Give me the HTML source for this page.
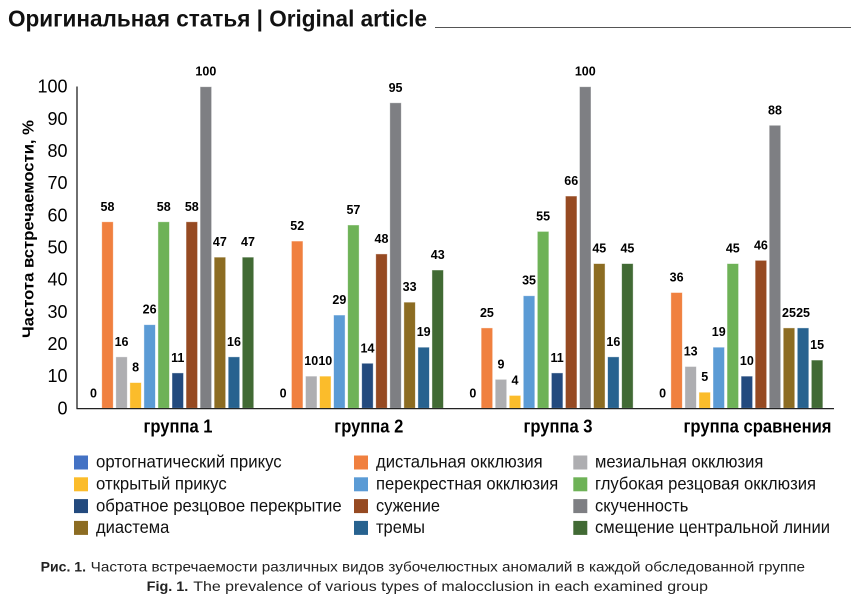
<!DOCTYPE html>
<html>
<head>
<meta charset="utf-8">
<style>
  html,body{margin:0;padding:0;background:#fff;}
  svg{display:block;}
  text{font-family:"Liberation Sans", Arial, sans-serif;}
</style>
</head>
<body>
<svg width="858" height="598" viewBox="0 0 858 598" xmlns="http://www.w3.org/2000/svg">
  <rect width="858" height="598" fill="#fff"/>

  <!-- Header -->
  <text x="8" y="26.5" font-size="23" font-weight="bold" fill="#111" textLength="419" lengthAdjust="spacingAndGlyphs">Оригинальная статья | Original article</text>
  <line x1="435" y1="27.5" x2="851" y2="27.5" stroke="#555" stroke-width="1"/>

  <!-- Y axis title -->
  <text transform="translate(33.5,229) rotate(-90)" text-anchor="middle" font-size="16" font-weight="bold" fill="#000" textLength="218" lengthAdjust="spacingAndGlyphs">Частота встречаемости, %</text>

  <!-- Y tick labels -->
  <g font-size="18" fill="#000" text-anchor="end">
    <text x="67.5" y="414.3">0</text>
    <text x="67.5" y="382.1">10</text>
    <text x="67.5" y="350">20</text>
    <text x="67.5" y="317.8">30</text>
    <text x="67.5" y="285.7">40</text>
    <text x="67.5" y="253.5">50</text>
    <text x="67.5" y="221.3">60</text>
    <text x="67.5" y="189.2">70</text>
    <text x="67.5" y="157">80</text>
    <text x="67.5" y="124.9">90</text>
    <text x="67.5" y="92.7">100</text>
  </g>

  <!-- Group 1 -->
  <g transform="translate(87.7,0)" stroke="rgba(255,255,255,0.55)" stroke-width="0.8">
    <rect x="14.05" y="221.77" width="11.5" height="186.53" fill="#F0803F"/>
    <rect x="28.1" y="356.84" width="11.5" height="51.46" fill="#AEAEB1"/>
    <rect x="42.15" y="382.57" width="11.5" height="25.73" fill="#FBBC2B"/>
    <rect x="56.2" y="324.68" width="11.5" height="83.62" fill="#5B9BD5"/>
    <rect x="70.25" y="221.77" width="11.5" height="186.53" fill="#6EB257"/>
    <rect x="84.3" y="372.92" width="11.5" height="35.38" fill="#234A7E"/>
    <rect x="98.35" y="221.77" width="11.5" height="186.53" fill="#964A22"/>
    <rect x="112.4" y="86.7" width="11.5" height="321.6" fill="#7E7F83"/>
    <rect x="126.45" y="257.15" width="11.5" height="151.15" fill="#8C6C22"/>
    <rect x="140.5" y="356.84" width="11.5" height="51.46" fill="#27628F"/>
    <rect x="154.55" y="257.15" width="11.5" height="151.15" fill="#416A34"/>
  </g>
  <g transform="translate(87.7,0)" font-size="12.5" font-weight="bold" fill="#000" text-anchor="middle">
    <text x="5.75" y="397.3">0</text>
    <text x="19.8" y="210.77">58</text>
    <text x="33.85" y="345.84">16</text>
    <text x="47.9" y="371.57">8</text>
    <text x="61.95" y="313.68">26</text>
    <text x="76" y="210.77">58</text>
    <text x="90.05" y="361.92">11</text>
    <text x="104.1" y="210.77">58</text>
    <text x="118.15" y="75.7">100</text>
    <text x="132.2" y="246.15">47</text>
    <text x="146.25" y="345.84">16</text>
    <text x="160.3" y="246.15">47</text>
  </g>

  <!-- Group 2 -->
  <g transform="translate(277.4,0)" stroke="rgba(255,255,255,0.55)" stroke-width="0.8">
    <rect x="14.05" y="241.07" width="11.5" height="167.23" fill="#F0803F"/>
    <rect x="28.1" y="376.14" width="11.5" height="32.16" fill="#AEAEB1"/>
    <rect x="42.15" y="376.14" width="11.5" height="32.16" fill="#FBBC2B"/>
    <rect x="56.2" y="315.04" width="11.5" height="93.26" fill="#5B9BD5"/>
    <rect x="70.25" y="224.99" width="11.5" height="183.31" fill="#6EB257"/>
    <rect x="84.3" y="363.28" width="11.5" height="45.02" fill="#234A7E"/>
    <rect x="98.35" y="253.93" width="11.5" height="154.37" fill="#964A22"/>
    <rect x="112.4" y="102.78" width="11.5" height="305.52" fill="#7E7F83"/>
    <rect x="126.45" y="302.17" width="11.5" height="106.13" fill="#8C6C22"/>
    <rect x="140.5" y="347.2" width="11.5" height="61.1" fill="#27628F"/>
    <rect x="154.55" y="270.01" width="11.5" height="138.29" fill="#416A34"/>
  </g>
  <g transform="translate(277.4,0)" font-size="12.5" font-weight="bold" fill="#000" text-anchor="middle">
    <text x="5.75" y="397.3">0</text>
    <text x="19.8" y="230.07">52</text>
    <text x="33.85" y="365.14">10</text>
    <text x="47.9" y="365.14">10</text>
    <text x="61.95" y="304.04">29</text>
    <text x="76" y="213.99">57</text>
    <text x="90.05" y="352.28">14</text>
    <text x="104.1" y="242.93">48</text>
    <text x="118.15" y="91.78">95</text>
    <text x="132.2" y="291.17">33</text>
    <text x="146.25" y="336.2">19</text>
    <text x="160.3" y="259.01">43</text>
  </g>

  <!-- Group 3 -->
  <g transform="translate(467.1,0)" stroke="rgba(255,255,255,0.55)" stroke-width="0.8">
    <rect x="14.05" y="327.9" width="11.5" height="80.4" fill="#F0803F"/>
    <rect x="28.1" y="379.36" width="11.5" height="28.94" fill="#AEAEB1"/>
    <rect x="42.15" y="395.44" width="11.5" height="12.86" fill="#FBBC2B"/>
    <rect x="56.2" y="295.74" width="11.5" height="112.56" fill="#5B9BD5"/>
    <rect x="70.25" y="231.42" width="11.5" height="176.88" fill="#6EB257"/>
    <rect x="84.3" y="372.92" width="11.5" height="35.38" fill="#234A7E"/>
    <rect x="98.35" y="196.04" width="11.5" height="212.26" fill="#964A22"/>
    <rect x="112.4" y="86.7" width="11.5" height="321.6" fill="#7E7F83"/>
    <rect x="126.45" y="263.58" width="11.5" height="144.72" fill="#8C6C22"/>
    <rect x="140.5" y="356.84" width="11.5" height="51.46" fill="#27628F"/>
    <rect x="154.55" y="263.58" width="11.5" height="144.72" fill="#416A34"/>
  </g>
  <g transform="translate(467.1,0)" font-size="12.5" font-weight="bold" fill="#000" text-anchor="middle">
    <text x="5.75" y="397.3">0</text>
    <text x="19.8" y="316.9">25</text>
    <text x="33.85" y="368.36">9</text>
    <text x="47.9" y="384.44">4</text>
    <text x="61.95" y="284.74">35</text>
    <text x="76" y="220.42">55</text>
    <text x="90.05" y="361.92">11</text>
    <text x="104.1" y="185.04">66</text>
    <text x="118.15" y="75.7">100</text>
    <text x="132.2" y="252.58">45</text>
    <text x="146.25" y="345.84">16</text>
    <text x="160.3" y="252.58">45</text>
  </g>

  <!-- Group 4 -->
  <g transform="translate(656.8,0)" stroke="rgba(255,255,255,0.55)" stroke-width="0.8">
    <rect x="14.05" y="292.52" width="11.5" height="115.78" fill="#F0803F"/>
    <rect x="28.1" y="366.49" width="11.5" height="41.81" fill="#AEAEB1"/>
    <rect x="42.15" y="392.22" width="11.5" height="16.08" fill="#FBBC2B"/>
    <rect x="56.2" y="347.2" width="11.5" height="61.1" fill="#5B9BD5"/>
    <rect x="70.25" y="263.58" width="11.5" height="144.72" fill="#6EB257"/>
    <rect x="84.3" y="376.14" width="11.5" height="32.16" fill="#234A7E"/>
    <rect x="98.35" y="260.36" width="11.5" height="147.94" fill="#964A22"/>
    <rect x="112.4" y="125.29" width="11.5" height="283.01" fill="#7E7F83"/>
    <rect x="126.45" y="327.9" width="11.5" height="80.4" fill="#8C6C22"/>
    <rect x="140.5" y="327.9" width="11.5" height="80.4" fill="#27628F"/>
    <rect x="154.55" y="360.06" width="11.5" height="48.24" fill="#416A34"/>
  </g>
  <g transform="translate(656.8,0)" font-size="12.5" font-weight="bold" fill="#000" text-anchor="middle">
    <text x="5.75" y="397.3">0</text>
    <text x="19.8" y="281.52">36</text>
    <text x="33.85" y="355.49">13</text>
    <text x="47.9" y="381.22">5</text>
    <text x="61.95" y="336.2">19</text>
    <text x="76" y="252.58">45</text>
    <text x="90.05" y="365.14">10</text>
    <text x="104.1" y="249.36">46</text>
    <text x="118.15" y="114.29">88</text>
    <text x="132.2" y="316.9">25</text>
    <text x="146.25" y="316.9">25</text>
    <text x="160.3" y="349.06">15</text>
  </g>

  <!-- Axes -->
  <line x1="77" y1="86.5" x2="77" y2="409" stroke="#222" stroke-width="1.3"/>
  <line x1="76.5" y1="408.6" x2="834" y2="408.6" stroke="#222" stroke-width="1.3"/>

  <!-- Category labels -->
  <g font-size="18" font-weight="bold" fill="#000" text-anchor="middle">
    <text x="178" y="432.5" textLength="69" lengthAdjust="spacingAndGlyphs">группа 1</text>
    <text x="368.8" y="432.5" textLength="69" lengthAdjust="spacingAndGlyphs">группа 2</text>
    <text x="558" y="432.5" textLength="69" lengthAdjust="spacingAndGlyphs">группа 3</text>
    <text x="757.5" y="432.5" textLength="148" lengthAdjust="spacingAndGlyphs">группа сравнения</text>
  </g>

  <!-- Legend -->
  <g>
    <rect x="74" y="455.5" width="14" height="14" fill="#4472C4"/>
    <rect x="354" y="455.5" width="14" height="14" fill="#F0803F"/>
    <rect x="573.3" y="455.5" width="14" height="14" fill="#AEAEB1"/>

    <rect x="74" y="477.3" width="14" height="14" fill="#FBBC2B"/>
    <rect x="354" y="477.3" width="14" height="14" fill="#5B9BD5"/>
    <rect x="573.3" y="477.3" width="14" height="14" fill="#6EB257"/>

    <rect x="74" y="499.1" width="14" height="14" fill="#234A7E"/>
    <rect x="354" y="499.1" width="14" height="14" fill="#964A22"/>
    <rect x="573.3" y="499.1" width="14" height="14" fill="#7E7F83"/>

    <rect x="74" y="520.9" width="14" height="14" fill="#8C6C22"/>
    <rect x="354" y="520.9" width="14" height="14" fill="#27628F"/>
    <rect x="573.3" y="520.9" width="14" height="14" fill="#416A34"/>
  </g>
  <g font-size="17.5" fill="#111">
    <text x="96" y="467.7" textLength="185.7" lengthAdjust="spacingAndGlyphs">ортогнатический прикус</text>
    <text x="376" y="467.7" textLength="166.7" lengthAdjust="spacingAndGlyphs">дистальная окклюзия</text>
    <text x="595" y="467.7" textLength="168.3" lengthAdjust="spacingAndGlyphs">мезиальная окклюзия</text>

    <text x="96" y="489.5" textLength="130.7" lengthAdjust="spacingAndGlyphs">открытый прикус</text>
    <text x="376" y="489.5" textLength="182.3" lengthAdjust="spacingAndGlyphs">перекрестная окклюзия</text>
    <text x="595" y="489.5" textLength="221" lengthAdjust="spacingAndGlyphs">глубокая резцовая окклюзия</text>

    <text x="96" y="511.3" textLength="245.7" lengthAdjust="spacingAndGlyphs">обратное резцовое перекрытие</text>
    <text x="376" y="511.3" textLength="64" lengthAdjust="spacingAndGlyphs">сужение</text>
    <text x="595" y="511.3" textLength="93.3" lengthAdjust="spacingAndGlyphs">скученность</text>

    <text x="96" y="533.1" textLength="73.3" lengthAdjust="spacingAndGlyphs">диастема</text>
    <text x="376" y="533.1" textLength="49" lengthAdjust="spacingAndGlyphs">тремы</text>
    <text x="595" y="533.1" textLength="235" lengthAdjust="spacingAndGlyphs">смещение центральной линии</text>
  </g>

  <!-- Caption -->
  <g font-size="14" fill="#222">
    <text x="40.7" y="571.7" font-weight="bold" textLength="45.3" lengthAdjust="spacingAndGlyphs">Рис. 1.</text>
    <text x="90.7" y="571.7" textLength="714.3" lengthAdjust="spacingAndGlyphs">Частота встречаемости различных видов зубочелюстных аномалий в каждой обследованной группе</text>
    <text x="146.7" y="591" font-weight="bold" textLength="41.6" lengthAdjust="spacingAndGlyphs">Fig. 1.</text>
    <text x="193.3" y="591" textLength="514.7" lengthAdjust="spacingAndGlyphs">The prevalence of various types of malocclusion in each examined group</text>
  </g>
</svg>
</body>
</html>
